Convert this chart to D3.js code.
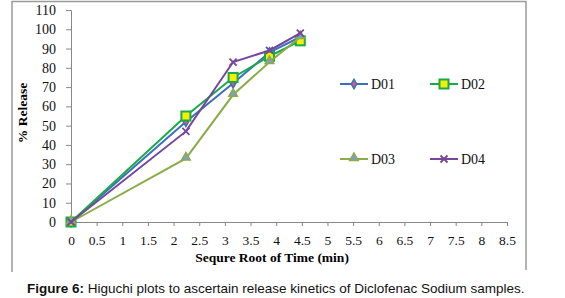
<!DOCTYPE html>
<html>
<head>
<meta charset="utf-8">
<script src="https://cdn.jsdelivr.net/npm/d3@7"></script>
<style>
  body { margin: 0; background: #fff; }
</style>
</head>
<body>
<div id="container"></div>
<script>
// data
let xTime = [0, 2.24, 3.16, 3.87, 4.47];
let d01 = [0, 52, 72, 88, 96];
let d02 = [0, 55, 75, 86, 94];
let d03 = [0, 33, 66, 83, 96];
let d04 = [0, 47, 83, 89, 98];
let seriesNames = ["D01", "D02", "D03", "D04"];
let xTicks = d3.range(0, 8.51, 0.5);
let yTicks = d3.range(0, 111, 10);

let w = 565;
let h = 298;

let svg = d3.select("#container")
  .append("svg")
  .attr("width", w)
  .attr("height", h)
  .style("background-color", "#fff");

// frame
svg.append("path")
  .attr("d", "M12,272 V1.5 H526 V270")
  .attr("fill", "none")
  .attr("stroke", "#9a9a9a")
  .attr("stroke-width", 1.5);

let xScale = d3.scaleLinear().domain([0, 8.5]).range([71, 507]);
let yScale = d3.scaleLinear().domain([0, 110]).range([222, 10]);

// axes
let xAxis = svg.append("g")
  .attr("transform", "translate(0," + yScale(0) + ")")
  .call(d3.axisBottom(xScale).tickValues(xTicks).tickSize(4).tickPadding(9).tickFormat(d => d));
let yAxis = svg.append("g")
  .attr("transform", "translate(" + xScale(0) + ",0)")
  .call(d3.axisLeft(yScale).tickValues(yTicks).tickSize(5).tickPadding(10).tickFormat(d => d));

[xAxis, yAxis].forEach(function (a) {
  a.select(".domain").attr("stroke", "#888").attr("stroke-width", 1);
  a.selectAll(".tick line").attr("stroke", "#888");
  a.selectAll("text")
    .attr("fill", "#111")
    .style("font-family", "'Liberation Serif', serif");
});
xAxis.selectAll("text").style("font-size", "13.5px");
yAxis.selectAll("text").style("font-size", "14px");

// titles
svg.append("text")
  .attr("x", 272)
  .attr("y", 262)
  .attr("text-anchor", "middle")
  .style("font-family", "'Liberation Serif', serif")
  .style("font-weight", "bold")
  .style("font-size", "13.5px")
  .text("Sequre Root of Time (min)");

svg.append("text")
  .attr("transform", "translate(27,113) rotate(-90)")
  .attr("text-anchor", "middle")
  .style("font-family", "'Liberation Serif', serif")
  .style("font-weight", "bold")
  .style("font-size", "13.5px")
  .text("% Release");

let colors = ["#3d6fc0", "#1aaa4a", "#8cab4a", "#74479b"];
let allSeries = [d01, d02, d03, d04];

let line = d3.line()
  .x(d => xScale(d[0]))
  .y(d => yScale(d[1]));

function drawMarker(g, i, x, y) {
  let c = colors[i];
  if (i === 0) {
    g.append("path")
      .attr("d", d3.symbol(d3.symbolDiamond, 26)())
      .attr("transform", "translate(" + x + "," + y + ")")
      .attr("fill", "#e05a70").attr("stroke", c).attr("stroke-width", 1.5);
  } else if (i === 1) {
    g.append("rect")
      .attr("x", x - 4.5).attr("y", y - 4.5)
      .attr("width", 9).attr("height", 9)
      .attr("fill", "#f5f000").attr("stroke", c).attr("stroke-width", 2);
  } else if (i === 2) {
    g.append("path")
      .attr("d", d3.symbol(d3.symbolTriangle, 32)())
      .attr("transform", "translate(" + x + "," + (y - 1) + ")")
      .attr("fill", "#7f9fc8").attr("stroke", c).attr("stroke-width", 1.5);
  } else {
    g.append("path")
      .attr("d", "M-3.5,-3.5L3.5,3.5M-3.5,3.5L3.5,-3.5")
      .attr("transform", "translate(" + x + "," + y + ")")
      .attr("fill", "none").attr("stroke", c).attr("stroke-width", 1.8);
  }
}

allSeries.forEach(function (vals, i) {
  let pts = xTime.map((x, j) => [x, vals[j]]);
  svg.append("path")
    .datum(pts)
    .attr("fill", "none")
    .attr("stroke", colors[i])
    .attr("stroke-width", 2)
    .attr("d", line);
  let g = svg.append("g");
  pts.forEach(p => drawMarker(g, i, xScale(p[0]), yScale(p[1])));
});

// legend
let legendPos = [[340, 84], [430, 84], [340, 159], [430, 159]];
seriesNames.forEach(function (name, i) {
  let lx = legendPos[i][0], ly = legendPos[i][1];
  let g = svg.append("g");
  g.append("line")
    .attr("x1", lx).attr("x2", lx + 28)
    .attr("y1", ly).attr("y2", ly)
    .attr("stroke", colors[i]).attr("stroke-width", 2);
  drawMarker(g, i, lx + 14, ly);
  g.append("text")
    .attr("x", lx + 31)
    .attr("y", ly + 5)
    .style("font-family", "'Liberation Serif', serif")
    .style("font-size", "14px")
    .attr("fill", "#111")
    .text(name);
});

// caption
let cap = svg.append("text")
  .attr("x", 27)
  .attr("y", 293)
  .style("font-family", "'Liberation Sans', Arial, sans-serif")
  .style("font-size", "13.5px")
  .attr("fill", "#111");
cap.append("tspan").style("font-weight", "bold").text("Figure 6:");
cap.append("tspan").text(" Higuchi plots to ascertain release kinetics of Diclofenac Sodium samples.");
</script>
</body>
</html>
